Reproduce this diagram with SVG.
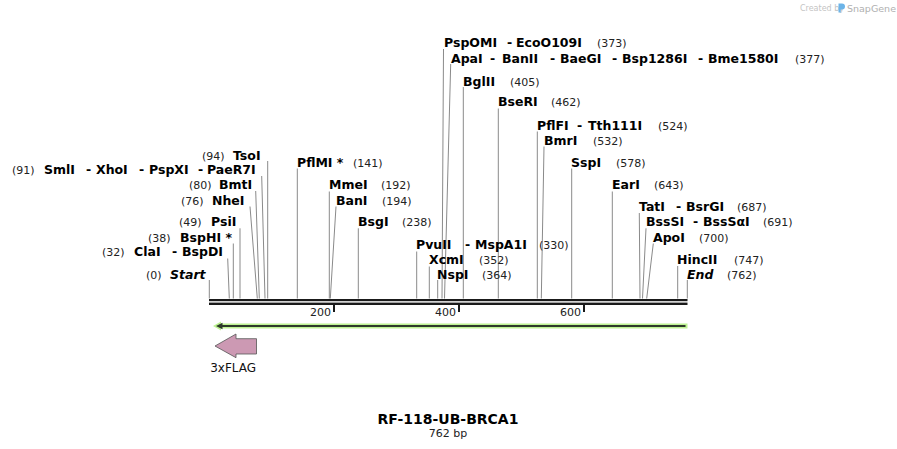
<svg xmlns="http://www.w3.org/2000/svg" width="897" height="449" viewBox="0 0 897 449">
<style>
text{font-family:"DejaVu Sans",Verdana,sans-serif;fill:#000}
.n{font-size:12.5px;font-weight:bold}
.i{font-size:12.5px;font-weight:bold;font-style:italic}
.p{font-size:11px;fill:#222}
.c line{stroke:#8a8a8a;stroke-width:1}
.t{font-size:11px;fill:#222}
</style>
<rect width="897" height="449" fill="#fff"/>
<g id="watermark">
<text x="800" y="11" style="font-size:8px;fill:#c4c4c4">Created by</text>
<path d="M838.5,3.5 h3.5 q3,0 3,3 q0,3 -3,3 h-1.2 v3 h-2.3 z" fill="#6cb4e8"/>
<text x="847" y="11.5" style="font-size:9.5px;fill:#b0b0b0">SnapGene</text>
</g>
<g id="connectors" class="c">
<line x1="209.3" y1="280" x2="209.3" y2="298.5"/>
<line x1="227.7" y1="258.5" x2="229.3" y2="298.5"/>
<line x1="233.3" y1="243.5" x2="233.3" y2="298.5"/>
<line x1="240" y1="228.3" x2="240" y2="298.5"/>
<line x1="250" y1="206.5" x2="257.3" y2="298.5"/>
<line x1="255.7" y1="191" x2="259.3" y2="298.5"/>
<line x1="261.7" y1="176" x2="265" y2="298.5"/>
<line x1="267.7" y1="161" x2="267.7" y2="298.5"/>
<line x1="297.3" y1="168.5" x2="297.3" y2="298.5"/>
<line x1="329.3" y1="191.5" x2="329.3" y2="298.5"/>
<line x1="336" y1="206.5" x2="330.3" y2="298.5"/>
<line x1="358.3" y1="228.3" x2="358.3" y2="298.5"/>
<line x1="416.7" y1="251.5" x2="416.7" y2="298.5"/>
<line x1="429.3" y1="266.5" x2="429.3" y2="298.5"/>
<line x1="437.7" y1="280" x2="437.7" y2="298.5"/>
<line x1="443.5" y1="49" x2="442" y2="298.5"/>
<line x1="450.7" y1="64" x2="444.5" y2="298.5"/>
<line x1="463.3" y1="87" x2="463.3" y2="298.5"/>
<line x1="498.3" y1="108.5" x2="498.3" y2="298.5"/>
<line x1="537.3" y1="131.5" x2="537.3" y2="298.5"/>
<line x1="544" y1="146.5" x2="541.3" y2="298.5"/>
<line x1="571.7" y1="168.5" x2="571.7" y2="298.5"/>
<line x1="612.3" y1="191.5" x2="612.3" y2="298.5"/>
<line x1="639.3" y1="213" x2="640" y2="298.5"/>
<line x1="646" y1="228.3" x2="642.5" y2="298.5"/>
<line x1="653.3" y1="243.5" x2="646.7" y2="298.5"/>
<line x1="677.7" y1="266" x2="677.7" y2="298.5"/>
<line x1="687.3" y1="280" x2="687.3" y2="298.5"/>
</g>
<g id="backbone">
<rect x="209" y="299" width="478.5" height="2.2" fill="#1a1a1a"/>
<rect x="209" y="302.6" width="478.5" height="2.4" fill="#1a1a1a"/>
<rect x="333" y="305" width="2" height="7" fill="#1a1a1a"/>
<rect x="458" y="305" width="2" height="7" fill="#1a1a1a"/>
<rect x="583" y="305" width="2" height="7" fill="#1a1a1a"/>
<text class="t" x="331" y="316" text-anchor="end">200</text>
<text class="t" x="456" y="316" text-anchor="end">400</text>
<text class="t" x="581" y="316" text-anchor="end">600</text>
</g>
<g id="orf">
<polygon points="213,326 221,321.5 221,323.5 687.5,323.5 687.5,328.5 221,328.5 221,330.5" fill="#bdf292"/>
<polygon points="216,326 222.5,322.8 222.5,325.1 685.5,325.1 685.5,326.9 222.5,326.9 222.5,329.2" fill="#2e3a2a"/>
</g>
<g id="feature-3xFLAG">
<polygon points="215,346 236,334 236,338.7 256.5,338.7 256.5,354 236,354 236,357.7" fill="#cc99b3" stroke="#555" stroke-width="0.8"/>
<text x="233.2" y="371.5" text-anchor="middle" style="font-size:12px;fill:#111">3xFLAG</text>
</g>
<g id="enz-start"><text class="p" x="146" y="279.4">(0)</text><text class="i" x="170" y="279.4">Start</text></g>
<g id="enz-ClaI"><text class="p" x="102" y="256">(32)</text><text class="n" y="256"><tspan x="134">ClaI</tspan><tspan x="172">-</tspan><tspan x="182">BspDI</tspan></text></g>
<g id="enz-BspHI"><text class="p" x="148" y="241.7">(38)</text><text class="n" x="180" y="241.7">BspHI *</text></g>
<g id="enz-PsiI"><text class="p" x="179" y="226">(49)</text><text class="n" x="211" y="226">PsiI</text></g>
<g id="enz-NheI"><text class="p" x="181" y="205">(76)</text><text class="n" x="212" y="205">NheI</text></g>
<g id="enz-BmtI"><text class="p" x="189" y="189.4">(80)</text><text class="n" x="219" y="189.4">BmtI</text></g>
<g id="enz-SmlI"><text class="p" x="12" y="174">(91)</text><text class="n" y="174"><tspan x="44">SmlI</tspan><tspan x="86">-</tspan><tspan x="96">XhoI</tspan><tspan x="139">-</tspan><tspan x="149">PspXI</tspan><tspan x="198">-</tspan><tspan x="207">PaeR7I</tspan></text></g>
<g id="enz-TsoI"><text class="p" x="202" y="159.5">(94)</text><text class="n" x="233" y="159.5">TsoI</text></g>
<g id="enz-PflMI"><text class="n" x="297" y="167">PflMI *</text><text class="p" x="353" y="167">(141)</text></g>
<g id="enz-MmeI"><text class="n" x="329" y="189.4">MmeI</text><text class="p" x="381" y="189.4">(192)</text></g>
<g id="enz-BanI"><text class="n" x="336" y="205">BanI</text><text class="p" x="382" y="205">(194)</text></g>
<g id="enz-BsgI"><text class="n" x="358" y="226">BsgI</text><text class="p" x="402" y="226">(238)</text></g>
<g id="enz-PvuII"><text class="n" y="249.4"><tspan x="416">PvuII</tspan><tspan x="465">-</tspan><tspan x="475">MspA1I</tspan></text><text class="p" x="539" y="249.4">(330)</text></g>
<g id="enz-XcmI"><text class="n" x="429" y="264.4">XcmI</text><text class="p" x="479" y="264.4">(352)</text></g>
<g id="enz-NspI"><text class="n" x="437" y="279.4">NspI</text><text class="p" x="482" y="279.4">(364)</text></g>
<g id="enz-PspOMI"><text class="n" y="47"><tspan x="444">PspOMI</tspan><tspan x="507">-</tspan><tspan x="516">EcoO109I</tspan></text><text class="p" x="597" y="47">(373)</text></g>
<g id="enz-ApaI"><text class="n" y="62.5"><tspan x="451">ApaI</tspan><tspan x="490">-</tspan><tspan x="502">BanII</tspan><tspan x="550">-</tspan><tspan x="560">BaeGI</tspan><tspan x="612">-</tspan><tspan x="622">Bsp1286I</tspan><tspan x="698">-</tspan><tspan x="708">Bme1580I</tspan></text><text class="p" x="795" y="62.5">(377)</text></g>
<g id="enz-BglII"><text class="n" x="463" y="86">BglII</text><text class="p" x="510" y="86">(405)</text></g>
<g id="enz-BseRI"><text class="n" x="498" y="106">BseRI</text><text class="p" x="551" y="106">(462)</text></g>
<g id="enz-PflFI"><text class="n" y="130"><tspan x="537">PflFI</tspan><tspan x="577">-</tspan><tspan x="588">Tth111I</tspan></text><text class="p" x="658" y="130">(524)</text></g>
<g id="enz-BmrI"><text class="n" x="544" y="145">BmrI</text><text class="p" x="593" y="145">(532)</text></g>
<g id="enz-SspI"><text class="n" x="571" y="167">SspI</text><text class="p" x="616" y="167">(578)</text></g>
<g id="enz-EarI"><text class="n" x="612" y="189.4">EarI</text><text class="p" x="654" y="189.4">(643)</text></g>
<g id="enz-TatI"><text class="n" y="211"><tspan x="639">TatI</tspan><tspan x="676">-</tspan><tspan x="686">BsrGI</tspan></text><text class="p" x="737" y="211">(687)</text></g>
<g id="enz-BssSI"><text class="n" y="226"><tspan x="646">BssSI</tspan><tspan x="693">-</tspan><tspan x="703">BssSαI</tspan></text><text class="p" x="763" y="226">(691)</text></g>
<g id="enz-ApoI"><text class="n" x="653" y="241.7">ApoI</text><text class="p" x="699" y="241.7">(700)</text></g>
<g id="enz-HincII"><text class="n" x="677" y="264.4">HincII</text><text class="p" x="734" y="264.4">(747)</text></g>
<g id="enz-end"><text class="i" x="687" y="279.4">End</text><text class="p" x="727" y="279.4">(762)</text></g>
<g id="title">
<text x="448" y="423.5" text-anchor="middle" style="font-size:14px;font-weight:bold">RF-118-UB-BRCA1</text>
<text x="448" y="437" text-anchor="middle" style="font-size:11px;fill:#222">762 bp</text>
</g>
</svg>
